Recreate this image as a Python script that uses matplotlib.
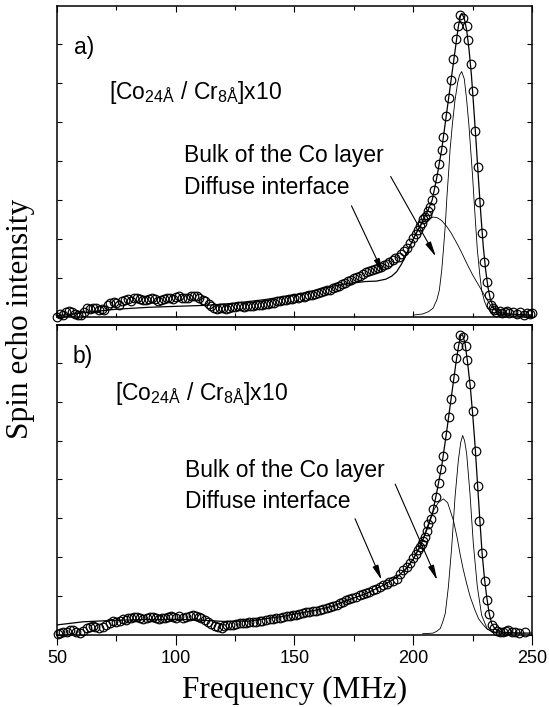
"""
Spin echo NMR spectra of [Co24A / Cr8A]x10 multilayers, two samples.
Open circles = measured spectrum, thick line = total fit,
thin lines = bulk Co and diffuse interface components.
"""

import matplotlib.pyplot as plt
from matplotlib.ticker import MultipleLocator, NullFormatter

plt.rcParams["font.family"] = ["Liberation Sans", "DejaVu Sans"]
plt.rcParams["mathtext.fontset"] = "custom"
plt.rcParams["mathtext.rm"] = "Liberation Sans"

# ----------------------------------------------------------------------
# Panel a) — measured points
# ----------------------------------------------------------------------
freq_a = [50.0, 51.2, 52.5, 53.8, 55.0, 56.3, 57.6, 58.8, 60.0, 61.3, 62.5, 63.8,
          65.0, 66.3, 67.5, 68.8, 70.0, 71.3, 72.5, 73.8, 75.0, 76.3, 77.5, 78.8,
          80.0, 81.3, 82.5, 83.8, 85.0, 86.3, 87.5, 88.8, 90.0, 91.3, 92.5, 93.8,
          95.0, 96.3, 97.5, 98.8, 100.0, 101.3, 102.5, 103.8, 105.0, 106.3, 107.5,
          108.8, 110.0, 111.3, 112.5, 113.8, 115.0, 116.3, 117.5, 118.8, 120.0,
          121.3, 122.5, 123.8, 125.0, 126.3, 127.5, 128.8, 130.0, 131.3, 132.5,
          133.8, 135.0, 136.3, 137.5, 138.8, 140.0, 141.3, 142.5, 143.8, 145.0,
          146.3, 147.5, 148.8, 150.0, 151.3, 152.5, 153.8, 155.0, 156.3, 157.5,
          158.8, 160.0, 161.3, 162.5, 163.8, 165.0, 166.3, 167.5, 168.8, 170.0,
          171.3, 172.5, 173.8, 175.0, 176.3, 177.5, 178.8, 180.0, 181.3, 182.5,
          183.8, 185.0, 186.3, 187.5, 188.8, 190.0, 191.3, 192.5, 193.8, 195.0,
          196.3, 197.5, 198.8, 200.0, 201.2, 202.1, 203.0, 203.6, 204.3, 204.9,
          205.6, 206.3, 207.1, 208.0, 208.9, 209.9, 211.0, 212.0, 212.7, 213.8,
          214.9, 215.9, 216.9, 218.0, 218.8, 219.8, 220.8, 222.5, 222.9, 224.2,
          225.0, 226.1, 227.1, 227.8, 228.8, 229.8, 230.9, 231.8, 232.6, 233.5,
          234.0, 235.0, 236.5, 237.5, 238.5, 239.3, 240.5, 242.1, 243.5, 245.0,
          246.5, 247.8, 249.2, 250.0]
echo_a = [0.00, 0.08, 0.05, 0.12, 0.16, 0.14, 0.08, 0.05, 0.06, 0.14, 0.22, 0.20,
          0.24, 0.22, 0.18, 0.20, 0.18, 0.30, 0.35, 0.38, 0.35, 0.32, 0.40, 0.44,
          0.46, 0.42, 0.48, 0.50, 0.47, 0.44, 0.43, 0.46, 0.48, 0.45, 0.42, 0.44,
          0.46, 0.48, 0.50, 0.47, 0.52, 0.53, 0.50, 0.48, 0.50, 0.53, 0.55,
          0.54, 0.50, 0.44, 0.40, 0.33, 0.28, 0.24, 0.20, 0.22, 0.22,
          0.20, 0.24, 0.26, 0.25, 0.27, 0.28, 0.26, 0.28, 0.28, 0.29,
          0.30, 0.30, 0.32, 0.33, 0.34, 0.36, 0.37, 0.40, 0.42, 0.44,
          0.44, 0.46, 0.47, 0.48, 0.50, 0.51, 0.52, 0.54, 0.56, 0.57,
          0.60, 0.62, 0.63, 0.66, 0.68, 0.70, 0.74, 0.76, 0.80, 0.84,
          0.88, 0.92, 0.96, 1.00, 1.03, 1.06, 1.10, 1.15, 1.18, 1.20,
          1.22, 1.25, 1.28, 1.33, 1.36, 1.40, 1.45, 1.50, 1.55, 1.62,
          1.70, 1.78, 1.90, 2.02, 2.12, 2.23, 2.34, 2.40, 2.50, 2.57,
          2.62, 2.72, 2.83, 3.00, 3.26, 3.56, 3.92, 4.28, 4.61, 5.15,
          5.61, 6.08, 6.61, 7.12, 7.46, 7.74, 7.66, 7.46, 7.09, 6.48,
          5.79, 4.77, 3.85, 2.96, 2.15, 1.40, 0.91, 0.56, 0.31, 0.22,
          0.18, 0.14, 0.15, 0.10, 0.12, 0.15, 0.10, 0.13, 0.08, 0.12,
          0.06, 0.10, 0.08, 0.10]

# Panel a) — fitted curves
fit_freq_a = [50, 61, 75, 89, 103, 113, 124, 138, 152, 160, 166, 173, 180, 184.5,
              188.5, 191, 193, 195, 197.5, 200, 203, 206, 208, 210, 212, 214, 216,
              218, 219, 220, 220.5, 221.5, 222.5, 223.5, 224.5, 225.5, 226.5,
              227.5, 228.5, 229.5, 230.5, 231.5, 232.5, 234, 236, 240, 245, 250]
fit_a = [0.03, 0.11, 0.20, 0.25, 0.28, 0.30, 0.35, 0.45, 0.59, 0.70, 0.79, 0.86,
         0.91, 0.92, 0.97, 1.05, 1.16, 1.35, 1.65, 2.00, 2.35, 2.70, 3.00, 3.60,
         4.30, 5.20, 6.10, 7.00, 7.45, 7.75, 7.78, 7.65, 7.35, 6.85, 6.20, 5.35,
         4.45, 3.50, 2.60, 1.80, 1.20, 0.75, 0.45, 0.22, 0.12, 0.08, 0.06, 0.05]

diffuse_freq_a = [196, 198, 200, 202, 204, 206, 208.5, 210, 212, 214, 216, 218,
                  220, 222.5, 225, 227.5, 229.5, 231, 233, 235, 236.5, 238, 242, 250]
diffuse_a = [1.45, 1.75, 2.00, 2.23, 2.42, 2.52, 2.56, 2.55, 2.47, 2.33, 2.15, 1.93,
             1.70, 1.38, 1.08, 0.82, 0.61, 0.45, 0.26, 0.14, 0.09, 0.06, 0.05, 0.05]

bulk_freq_a = [200, 204.1, 206.5, 208.4, 210, 211, 212, 212.7, 213.5, 214.1, 215,
               215.5, 216.5, 217.6, 218.7, 219.5, 220.4, 221.5, 222.5, 223.4, 224.2,
               225, 225.6, 226.3, 227, 228, 228.8, 230, 231.2, 233, 234.6, 237, 240]
bulk_a = [0.05, 0.08, 0.14, 0.23, 0.45, 0.69, 1.20, 1.72, 2.35, 3.00, 3.80,
          4.28, 4.95, 5.56, 6.00, 6.20, 6.29, 6.10, 5.56, 4.95, 4.28,
          3.60, 3.00, 2.35, 1.72, 1.10, 0.69, 0.40, 0.23, 0.12, 0.08, 0.05, 0.05]

# ----------------------------------------------------------------------
# Panel b) — measured points
# ----------------------------------------------------------------------
freq_b = [50.5, 51.3, 52.5, 54.1, 55.3, 56.9, 58.2, 59.7, 61.0, 62.5, 63.8, 65.0,
          66.0, 67.5, 69.5, 70.8, 72.3, 73.5, 75.0, 76.5, 77.8, 79.0, 80.0, 81.3,
          82.5, 83.5, 85.0, 86.3, 87.7, 89.0, 90.5, 91.9, 93.0, 94.2, 95.4, 96.8,
          98.0, 98.9, 100.3, 101.5, 103.1, 104.4, 105.8, 107.3, 108.5, 109.6,
          110.8, 112.2, 113.6, 115.0, 116.5, 117.8, 119.3, 120.5, 121.7, 122.8,
          124.0, 125.5, 127.0, 128.3, 129.5, 131.0, 132.6, 134.0, 135.3, 136.5,
          138.0, 139.6, 141.0, 142.3, 143.7, 145.0, 146.7, 148.0, 149.3, 150.5,
          152.0, 153.7, 155.0, 156.3, 157.8, 159.2, 160.7, 162.0, 163.5, 165.0,
          166.3, 167.8, 169.0, 170.5, 171.9, 173.0, 174.3, 175.8, 177.5, 178.8,
          180.0, 181.5, 183.2, 184.5, 186.0, 187.4, 188.8, 190.0, 191.5, 193.0,
          194.4, 195.8, 197.2, 198.5, 200.0, 201.0, 202.1, 203.0, 203.6, 204.3,
          204.9, 205.6, 206.3, 207.4, 208.4, 209.5, 210.8, 211.9, 212.6, 213.8,
          214.9, 215.9, 217.0, 218.0, 218.7, 219.8, 220.8, 222.2, 222.8, 224.0,
          225.0, 226.3, 227.1, 227.9, 228.9, 230.1, 231.0, 231.9, 233.1, 234.0,
          235.2, 236.5, 237.8, 239.0, 240.0, 241.5, 242.9, 244.5, 247.1]
echo_b = [0.02, 0.04, 0.07, 0.09, 0.12, 0.13, 0.08, 0.04, 0.10, 0.17, 0.20, 0.22,
          0.21, 0.18, 0.21, 0.27, 0.32, 0.36, 0.34, 0.37, 0.41, 0.39, 0.43, 0.45,
          0.47, 0.47, 0.45, 0.42, 0.43, 0.46, 0.47, 0.45, 0.42, 0.44, 0.43, 0.46,
          0.48, 0.47, 0.45, 0.49, 0.45, 0.47, 0.49, 0.51, 0.50, 0.47,
          0.45, 0.39, 0.34, 0.28, 0.23, 0.21, 0.19, 0.22, 0.25, 0.26,
          0.27, 0.29, 0.30, 0.31, 0.31, 0.33, 0.34, 0.34, 0.36, 0.37,
          0.38, 0.40, 0.42, 0.44, 0.45, 0.47, 0.49, 0.50, 0.52, 0.52,
          0.54, 0.56, 0.58, 0.59, 0.61, 0.63, 0.64, 0.67, 0.69, 0.72,
          0.74, 0.78, 0.82, 0.86, 0.90, 0.93, 0.96, 0.99, 1.03, 1.06,
          1.08, 1.11, 1.15, 1.19, 1.23, 1.28, 1.32, 1.36, 1.40, 1.45,
          1.58, 1.66, 1.75, 1.86, 1.97, 2.08, 2.18, 2.26, 2.33, 2.43,
          2.52, 2.68, 2.85, 2.99, 3.25, 3.55, 3.91, 4.26, 4.59, 5.15,
          5.60, 6.07, 6.61, 7.11, 7.44, 7.72, 7.67, 7.44, 7.07, 6.45,
          5.77, 4.74, 3.83, 2.93, 2.11, 1.39, 0.90, 0.53, 0.26, 0.18,
          0.11, 0.09, 0.07, 0.10, 0.12, 0.08, 0.07, 0.06, 0.08]

# Panel b) — fitted curves
fit_freq_b = [50, 61, 75, 89, 103, 111.5, 120, 131, 145, 159, 166, 173, 180, 187,
              193, 197.7, 200, 203, 206, 208, 210, 212, 214, 216, 218, 219, 220,
              220.8, 221.8, 222.8, 224, 225, 226, 227, 228, 229, 230, 231, 232, 233,
              234.5, 237, 240, 245, 250]
fit_b = [0.26, 0.34, 0.38, 0.40, 0.40, 0.38, 0.35, 0.36, 0.48, 0.64, 0.74, 0.91,
         1.06, 1.27, 1.48, 1.75, 1.95, 2.28, 2.75, 3.10, 3.70, 4.35, 5.20, 6.10,
         7.00, 7.40, 7.70, 7.72, 7.50, 7.05, 6.40, 5.70, 4.90, 3.95, 3.00, 2.10,
         1.45, 0.95, 0.55, 0.30, 0.15, 0.08, 0.06, 0.05, 0.05]

diffuse_freq_b = [196, 198, 200, 202, 204, 206, 207.5, 209, 210.5, 212.7, 214.5,
                  216.9, 218.5, 219.7, 221, 222.5, 224, 226, 227.5, 229.5, 231,
                  233, 236.5, 240, 245]
diffuse_b = [1.60, 1.80, 1.95, 2.20, 2.45, 2.80, 3.05, 3.25, 3.40, 3.50, 3.40,
             2.95, 2.50, 2.09, 1.70, 1.32, 0.98, 0.64, 0.42, 0.26, 0.16,
             0.09, 0.05, 0.05, 0.05]

bulk_freq_b = [204, 206, 208.4, 210, 211.4, 212.5, 213.5, 214.8, 216.2, 217.6,
               219.0, 220.0, 220.8, 221.6, 222.5, 223.9, 225.3, 227.0, 228.8,
               231.2, 235.2, 240]
bulk_b = [0.04, 0.04, 0.05, 0.10, 0.17, 0.35, 0.56, 1.24, 2.26, 3.55,
          4.49, 4.95, 5.13, 5.00, 4.66, 3.63, 2.35, 1.24, 0.51,
          0.15, 0.05, 0.05]

SAMPLE_LABEL = r"[Co$_{\mathregular{24Å}}$ / Cr$_{\mathregular{8Å}}$]x10"
TEXT_SIZE = 16.5


def draw_panel(ax, f, y, ff, yf, fd, yd, fb, yb, letter, txt_pos, arrows):
    ax.plot(ff, yf, color="k", lw=0.9, zorder=3)
    ax.plot(fd, yd, color="k", lw=0.6, zorder=2)
    ax.plot(fb, yb, color="k", lw=0.6, zorder=2)
    ax.plot(f, y, "o", ms=6.2, mfc="none", mec="k", mew=0.85,
            clip_on=False, zorder=4)

    ax.set_xlim(50, 250)
    ax.set_ylim(0, 7.97)
    ax.xaxis.set_major_locator(MultipleLocator(50))
    ax.xaxis.set_minor_locator(MultipleLocator(25))
    ax.yaxis.set_major_locator(MultipleLocator(1))
    ax.yaxis.set_major_formatter(NullFormatter())
    ax.tick_params(axis="y", which="both", direction="in", left=True,
                   right=True, length=3.5, width=0.8)
    for s in ax.spines.values():
        s.set_linewidth(1.1)

    (lx, ly), (sx, sy), (bx, by), (dx, dy) = txt_pos
    ax.text(lx, ly, letter, fontsize=TEXT_SIZE, ha="left", va="center")
    ax.text(sx, sy, SAMPLE_LABEL, fontsize=TEXT_SIZE, ha="left",
            va="baseline")
    ax.text(bx, by, "Bulk of the Co layer", fontsize=TEXT_SIZE, ha="left",
            va="center")
    ax.text(dx, dy, "Diffuse interface", fontsize=TEXT_SIZE, ha="left",
            va="center")

    for start, tip in arrows:
        ax.annotate("", xy=tip, xytext=start,
                    arrowprops=dict(arrowstyle="-|>,head_length=0.9,head_width=0.18",
                                    color="k", lw=0.8, shrinkA=0, shrinkB=0,
                                    mutation_scale=10))


fig = plt.figure(figsize=(5.49, 7.07), dpi=100)
ax_a = fig.add_axes([0.1038, 0.5516, 0.8652, 0.4399])
ax_b = fig.add_axes([0.1038, 0.1018, 0.8652, 0.4385])

draw_panel(ax_a, freq_a, echo_a, fit_freq_a, fit_a, diffuse_freq_a, diffuse_a,
           bulk_freq_a, bulk_a, "a)",
           [(57.2, 6.9), (71.9, 5.59), (103.6, 4.15), (103.6, 3.33)],
           [((174.0, 2.85), (187.4, 1.12)), ((190.5, 3.6), (209.5, 1.55))])
draw_panel(ax_b, freq_b, echo_b, fit_freq_b, fit_b, diffuse_freq_b, diffuse_b,
           bulk_freq_b, bulk_b, "b)",
           [(56.7, 7.15), (74.5, 6.03), (104.0, 4.23), (104.0, 3.43)],
           [((175.5, 2.99), (186.7, 1.41)), ((192.4, 3.88), (210.1, 1.41))])

# top panel: inward x ticks everywhere, no labels
ax_a.tick_params(axis="x", which="both", direction="in", top=True,
                 bottom=True, labelbottom=False, width=0.8)
ax_a.tick_params(axis="x", which="major", length=4)
ax_a.tick_params(axis="x", which="minor", length=3)

# bottom panel: outward labelled ticks at the bottom, inward ticks on top
ax_b.tick_params(axis="x", which="both", direction="out", top=False,
                 width=0.8, labelsize=13, pad=4)
ax_b.tick_params(axis="x", which="major", length=7)
ax_b.tick_params(axis="x", which="minor", length=4)
top_b = ax_b.secondary_xaxis("top")
top_b.xaxis.set_major_locator(MultipleLocator(50))
top_b.xaxis.set_minor_locator(MultipleLocator(25))
top_b.tick_params(axis="x", which="both", direction="in", labeltop=False,
                  width=0.8, length=3.5)
top_b.spines["top"].set_linewidth(1.1)

fig.text(294.5 / 549, 1 - 690 / 707, "Frequency (MHz)", fontsize=22.5,
         family="Liberation Serif", ha="center", va="center")
fig.text(21 / 549, 1 - 319 / 707, "Spin echo intensity", fontsize=22.5,
         family="Liberation Serif", ha="center", va="center", rotation=90)

fig.savefig("out.png", dpi=100)
print("[plot] saved -> out.png")
